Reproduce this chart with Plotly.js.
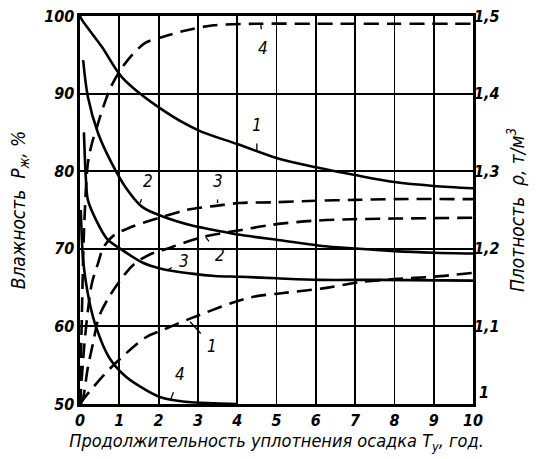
<!DOCTYPE html>
<html>
<head>
<meta charset="utf-8">
<script src="https://cdn.plot.ly/plotly-3.0.1.min.js"></script>
<style>html,body{margin:0;padding:0;background:#fff;}#chart{width:541px;height:459px;}</style>
</head>
<body>
<div id="chart"></div>
<script>
// Moisture curves (left axis, %), solid
const m1x = [0, 0.05, 0.56, 1.07, 2.1, 3, 4, 5, 6, 7, 8, 9, 10];
const m1y = [100, 99.5, 96.0, 92.1, 87.9, 85.3, 83.5, 81.7, 80.5, 79.5, 78.6, 78.1, 77.8];
const m2x = [0.08, 0.2, 0.46, 0.81, 1.15, 1.58, 2.09, 2.85, 3.43, 4.07, 5.09, 6.1, 7.1, 8, 9, 10];
const m2y = [94.3, 89.6, 84.9, 81, 78, 75.4, 74.2, 73.0, 72.4, 71.8, 71.1, 70.4, 70.0, 69.7, 69.5, 69.4];
const m3x = [0.1, 0.15, 0.2, 0.41, 0.7, 1.0, 1.6, 2.09, 2.85, 3.43, 4.07, 5, 6.1, 7.6, 10];
const m3y = [85, 79, 76.3, 73.7, 71.2, 70.1, 68.2, 67.4, 66.8, 66.5, 66.4, 66.2, 66.0, 66.0, 65.9];
const m4x = [0.02, 0.05, 0.08, 0.23, 0.41, 0.74, 1.17, 1.68, 2.09, 2.67, 3.43, 4];
const m4y = [75, 71, 68.5, 63.4, 59.9, 56.0, 53.5, 51.8, 50.8, 50.3, 50.1, 50.0];

// Density curves (right axis, t/m3), dashed
const d1x = [0, 0.13, 0.81, 1.68, 2.09, 2.85, 4.3, 5.17, 6.18, 7.12, 8, 9, 10];
const d1y = [1.0, 1.009, 1.048, 1.086, 1.095, 1.111, 1.137, 1.143, 1.149, 1.157, 1.161, 1.164, 1.169];
const d2x = [0.02, 0.08, 0.2, 0.33, 0.48, 0.74, 1.17, 1.42, 1.83, 2.09, 3.1, 4.07, 4.9, 5.9, 6.9, 8, 10];
const d2y = [1.0, 1.008, 1.047, 1.078, 1.112, 1.138, 1.169, 1.182, 1.194, 1.198, 1.215, 1.224, 1.231, 1.236, 1.238, 1.239, 1.24];
const d3x = [0, 0.1, 0.2, 0.3, 0.45, 0.6, 0.85, 1.3, 2.09, 2.7, 3.4, 4.07, 5, 6, 7, 8, 10];
const d3y = [1.0, 1.07, 1.12, 1.155, 1.18, 1.202, 1.217, 1.228, 1.241, 1.25, 1.255, 1.259, 1.26, 1.262, 1.263, 1.264, 1.264];
const d4x = [0, 0.05, 0.1, 0.2, 0.3, 0.45, 0.58, 0.8, 1.15, 1.65, 2.1, 2.75, 3.4, 4.5, 6, 8, 10];
const d4y = [1.0, 1.12, 1.22, 1.31, 1.335, 1.36, 1.381, 1.41, 1.439, 1.465, 1.473, 1.482, 1.488, 1.49, 1.49, 1.49, 1.49];

// Axis ticks
const xTicks = [0, 1, 2, 3, 4, 5, 6, 7, 8, 9, 10];
const yLeftTicks = [50, 60, 70, 80, 90, 100];
const yRightTicks = [1.1, 1.2, 1.3, 1.4, 1.5];
const yRightText = ["1,1", "1,2", "1,3", "1,4", "1,5"];
const yRightBottom = [1.0, "1"];

// Curve labels: [text, x, y(left-axis units), dx, dy]
const labels = [
  ["1", 4.5, 82.6, 0, -26],
  ["2", 1.53, 75.9, 8, -22],
  ["3", 3.5, 75.9, 0, -22],
  ["4", 4.6, 99.0, 2, 24],
  ["2", 3.2, 71.5, 14, 18],
  ["3", 2.2, 67.2, 18, -10],
  ["1", 2.8, 60.6, 22, 24],
  ["4", 2.3, 50.5, 10, -26]
];

const BLACK = "#000";
const FONT = "DejaVu Sans Condensed, DejaVu Sans, sans-serif";

function solid(x, y) {
  return {x: x, y: y, type: "scatter", mode: "lines", yaxis: "y",
    line: {color: BLACK, width: 2.6, shape: "spline", smoothing: 0.9},
    hoverinfo: "skip", showlegend: false};
}
function dashed(x, y) {
  return {x: x, y: y, type: "scatter", mode: "lines", yaxis: "y2",
    line: {color: BLACK, width: 2.6, dash: "15px,8px", shape: "spline", smoothing: 0.9},
    hoverinfo: "skip", showlegend: false};
}

const data = [
  solid(m1x, m1y), solid(m2x, m2y), solid(m3x, m3y), solid(m4x, m4y),
  dashed(d1x, d1y), dashed(d2x, d2y), dashed(d3x, d3y), dashed(d4x, d4y)
];

const tickFont = {family: FONT, size: 16, color: BLACK, style: "italic", weight: "bold"};

const annotations = labels.map(l => ({
  text: l[0], x: l[1], y: l[2], xref: "x", yref: "y",
  showarrow: true, arrowhead: 0, arrowwidth: 1.3, arrowcolor: BLACK,
  ax: l[3], ay: l[4], standoff: 0, startstandoff: 7,
  font: {family: FONT, size: 17, color: BLACK, style: "italic"}
}));
annotations.push({
  text: yRightBottom[1], x: 1, xref: "paper", xanchor: "left", xshift: 4,
  y: yRightBottom[0], yref: "y2", yanchor: "middle", yshift: 12,
  showarrow: false, font: tickFont
});

const layout = {
  width: 541, height: 459,
  margin: {l: 80, r: 68, t: 16, b: 55},
  paper_bgcolor: "#fff", plot_bgcolor: "#fff",
  showlegend: false,
  xaxis: {
    range: [0, 10], tickvals: xTicks, ticktext: xTicks.map(String),
    showgrid: true, gridcolor: BLACK, gridwidth: 1.8,
    showline: true, linecolor: BLACK, linewidth: 2.6, mirror: true,
    zeroline: false, ticks: "", tickfont: tickFont,
    title: {text: "Продолжительность уплотнения осадка T<sub>у</sub>, год.",
      font: {family: FONT, size: 18, color: BLACK, style: "italic"}, standoff: 3}
  },
  yaxis: {
    range: [50, 100], tickvals: yLeftTicks, ticktext: yLeftTicks.map(String),
    showgrid: true, gridcolor: BLACK, gridwidth: 1.8,
    showline: true, linecolor: BLACK, linewidth: 2.6, mirror: true,
    zeroline: false, ticks: "", tickfont: tickFont,
    title: {text: "Влажность  P<sub>ж</sub>, %",
      font: {family: FONT, size: 19, color: BLACK, style: "italic"}, standoff: 14}
  },
  yaxis2: {
    range: [1.0, 1.5], overlaying: "y", side: "right",
    tickvals: yRightTicks, ticktext: yRightText,
    showgrid: false, showline: false, zeroline: false, ticks: "", tickfont: tickFont,
    title: {text: "Плотность  ρ, т/м<sup>3</sup>",
      font: {family: FONT, size: 19, color: BLACK, style: "italic"}, standoff: 12}
  },
  annotations: annotations
};

Plotly.newPlot("chart", data, layout, {displayModeBar: false, staticPlot: true});
</script>
</body>
</html>
